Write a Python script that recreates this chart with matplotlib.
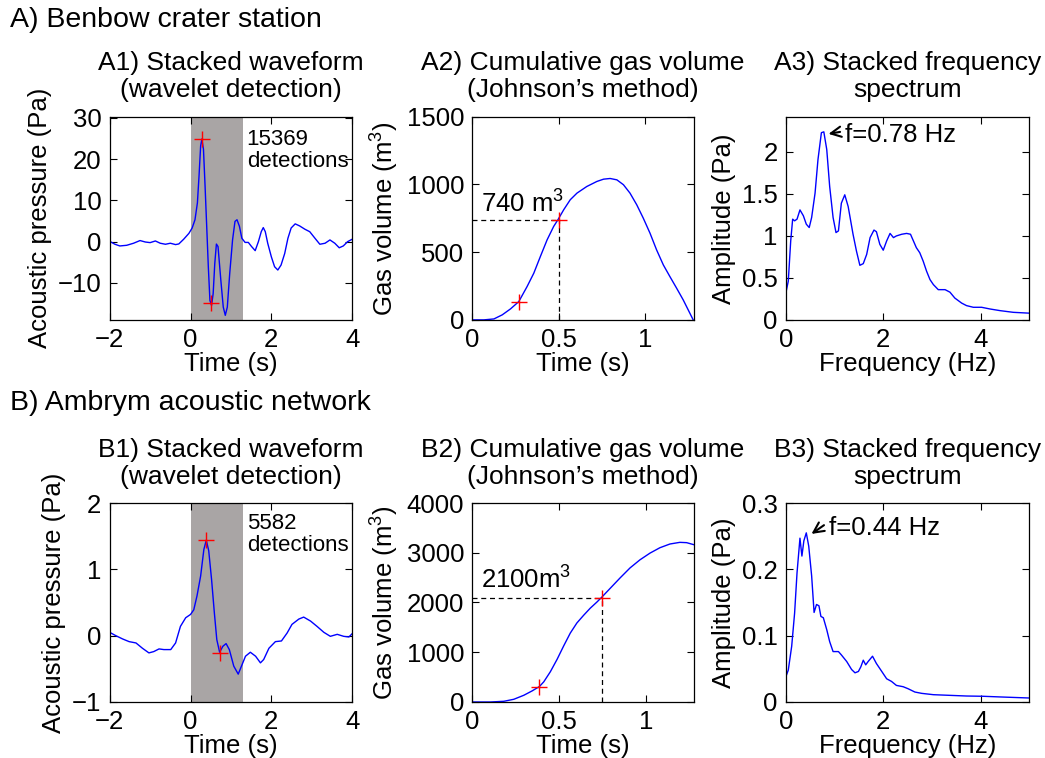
import numpy as np
import matplotlib
matplotlib.use('Agg')
import matplotlib.pyplot as plt
from matplotlib.ticker import FuncFormatter

plt.rcParams['font.family'] = ['Liberation Sans', 'DejaVu Sans']
plt.rcParams['mathtext.fontset'] = 'custom'
plt.rcParams['mathtext.rm'] = 'Liberation Sans'
plt.rcParams['mathtext.default'] = 'regular'
plt.rcParams['font.size'] = 18.5
plt.rcParams['axes.titlesize'] = 19
plt.rcParams['axes.labelsize'] = 18.5

# ---- A) Benbow crater station ----
a1_t = [-1.99, -1.87, -1.75, -1.58, -1.41, -1.25, -1.12, -1.0, -0.87, -0.75, -0.62, -0.5,
        -0.37, -0.29, -0.17, -0.04, 0.04, 0.11, 0.17, 0.21, 0.25, 0.28, 0.32, 0.36, 0.40,
        0.44, 0.48, 0.52, 0.56, 0.60, 0.64, 0.68, 0.75, 0.81, 0.86, 0.91, 0.97, 1.04, 1.10,
        1.15, 1.21, 1.27, 1.35, 1.43, 1.51, 1.60, 1.68, 1.75, 1.80, 1.85, 1.91, 2.0, 2.08,
        2.16, 2.24, 2.33, 2.41, 2.49, 2.59, 2.70, 2.83, 2.95, 3.08, 3.20, 3.33, 3.45, 3.57,
        3.68, 3.78, 3.89, 4.0]
a1_p = [0, -0.65, -1.06, -0.9, -0.4, 0.25, -0.1, -0.25, 0.15, -0.4, -0.65, -0.4,
        -0.73, -0.57, 0.57, 2.0, 3.3, 5.3, 9.4, 15.9, 23.2, 24.9, 22.4, 13.4, 3.7,
        -6.1, -14.3, -15.5, -12.6, -5.3, -0.6, -1.2, -9.4, -15.9, -17.9, -15.9, -7.7, 0.4, 4.9,
        5.3, 3.7, 0.8, -0.2, -0.2, -1.2, -2.2, 0, 2.4, 3.4, 2.4, -0.4, -3.7, -6.1,
        -6.9, -5.7, -2.9, 0.8, 3.3, 4.3, 3.8, 3.0, 2.4, 0.8, -0.65, -0.4, 0.4, -0.4,
        -1.5, -1.06, 0, 0.57]
a1_marks_t = [0.28, 0.50]
a1_marks_p = [25, -15]
a1_window = (0, 1.3)
a1_count = '15369\ndetections'

a2_t = [0, 0.067, 0.125, 0.173, 0.221, 0.269, 0.317, 0.356, 0.394, 0.433, 0.471, 0.496,
        0.529, 0.567, 0.606, 0.663, 0.721, 0.760, 0.798, 0.837, 0.875, 0.913, 0.952, 0.990,
        1.029, 1.067, 1.106, 1.144, 1.183, 1.221, 1.25, 1.279]
a2_v = [0, 0, 7, 37, 81, 135, 246, 345, 468, 591, 690, 740,
        813, 887, 936, 985, 1022, 1039, 1044, 1034, 998, 936, 850, 751,
        640, 517, 406, 320, 234, 148, 74, 0]
a2_marks_t = [0.27, 0.50]
a2_marks_v = [130, 740]

a3_f = [0, 0.05, 0.1, 0.14, 0.18, 0.23, 0.29, 0.36, 0.42, 0.48, 0.53, 0.60, 0.66, 0.73,
        0.78, 0.84, 0.90, 0.97, 1.03, 1.08, 1.14, 1.21, 1.28, 1.38, 1.45, 1.52, 1.59, 1.66,
        1.73, 1.81, 1.86, 1.93, 2.0, 2.07, 2.14, 2.21, 2.27, 2.38, 2.48, 2.56, 2.62, 2.68,
        2.75, 2.82, 2.89, 2.96, 3.03, 3.13, 3.27, 3.37, 3.47, 3.61, 3.71, 3.85, 4.02, 4.19,
        4.4, 4.67, 5.0]
a3_amp = [0.32, 0.46, 0.94, 1.2, 1.18, 1.2, 1.31, 1.24, 1.14, 1.10, 1.22, 1.51, 1.91, 2.23,
          2.24, 2.03, 1.59, 1.22, 1.04, 1.06, 1.39, 1.49, 1.35, 1.02, 0.82, 0.65, 0.67, 0.78,
          0.98, 1.07, 1.05, 0.9, 0.83, 0.94, 1.03, 0.98, 1.0, 1.02, 1.03, 1.02, 0.94, 0.86,
          0.80, 0.70, 0.58, 0.48, 0.42, 0.36, 0.36, 0.33, 0.26, 0.20, 0.17, 0.15, 0.15, 0.13,
          0.11, 0.09, 0.08]
a3_peak = (0.78, 2.24)

# ---- B) Ambrym acoustic network ----
b1_t = [-2, -1.85, -1.68, -1.52, -1.35, -1.19, -1.03, -0.91, -0.78, -0.66, -0.49, -0.37,
        -0.25, -0.12, 0, 0.08, 0.16, 0.25, 0.33, 0.39, 0.45, 0.52, 0.59, 0.65, 0.72, 0.80,
        0.88, 0.96, 1.07, 1.18, 1.26, 1.36, 1.48, 1.61, 1.73, 1.81, 1.94, 2.10, 2.25, 2.39,
        2.51, 2.68, 2.80, 2.97, 3.13, 3.30, 3.46, 3.63, 3.79, 3.92, 4.0]
b1_p = [0.05, 0, -0.05, -0.09, -0.11, -0.19, -0.26, -0.24, -0.20, -0.21, -0.21, -0.11,
        0.14, 0.27, 0.32, 0.39, 0.60, 0.90, 1.30, 1.44, 1.28, 0.85, 0.34, -0.06, -0.25, -0.16,
        -0.12, -0.21, -0.46, -0.58, -0.46, -0.31, -0.25, -0.31, -0.41, -0.36, -0.19, -0.09, -0.08, 0.04,
        0.17, 0.25, 0.28, 0.22, 0.14, 0.05, -0.01, 0.02, -0.01, -0.02, 0.03]
b1_marks_t = [0.39, 0.73]
b1_marks_p = [1.44, -0.26]
b1_window = (0, 1.3)
b1_count = '5582\ndetections'

b2_t = [0, 0.105, 0.182, 0.239, 0.297, 0.345, 0.387, 0.412, 0.450, 0.489, 0.527, 0.565,
        0.603, 0.642, 0.680, 0.718, 0.747, 0.795, 0.852, 0.910, 0.967, 1.025, 1.082, 1.140,
        1.197, 1.236, 1.278]
b2_v = [0, 0, 14, 54, 135, 223, 311, 405, 608, 858, 1128, 1385,
        1588, 1743, 1885, 2007, 2108, 2284, 2493, 2696, 2858, 2993, 3101, 3176,
        3209, 3203, 3162]
b2_marks_t = [0.387, 0.747]
b2_marks_v = [305, 2100]

b3_f = [0, 0.05, 0.12, 0.18, 0.23, 0.29, 0.33, 0.37, 0.42, 0.47, 0.53, 0.58, 0.63, 0.68,
        0.72, 0.77, 0.84, 0.90, 0.97, 1.08, 1.14, 1.25, 1.35, 1.42, 1.49, 1.54, 1.59, 1.64,
        1.69, 1.78, 1.86, 1.97, 2.07, 2.17, 2.27, 2.41, 2.51, 2.65, 2.79, 3.03, 3.37, 3.71,
        4.05, 4.4, 5.0]
b3_amp = [0.038, 0.048, 0.084, 0.134, 0.195, 0.247, 0.220, 0.243, 0.255, 0.235, 0.19, 0.135,
          0.147, 0.145, 0.129, 0.127, 0.109, 0.091, 0.076, 0.076, 0.071, 0.061, 0.049, 0.044,
          0.046, 0.053, 0.063, 0.056, 0.061, 0.069, 0.058, 0.046, 0.035, 0.031, 0.025, 0.023,
          0.020, 0.015, 0.013, 0.011, 0.010, 0.009, 0.0086, 0.0076, 0.006]
b3_peak = (0.44, 0.255)

fmt = FuncFormatter(lambda v, p: f'{v:g}'.replace('-', '\u2212'))


def style(ax):
    ax.tick_params(direction='in', top=True, right=True, length=5, width=0.8, pad=6)
    ax.xaxis.set_major_formatter(fmt)
    ax.yaxis.set_major_formatter(fmt)
    for s in ax.spines.values():
        s.set_linewidth(0.9)


fig = plt.figure(figsize=(10.45, 7.58), dpi=100)

rows = [0.578, 0.0739]
heights = [0.268, 0.2625]
cols = [(0.105, 0.232), (0.452, 0.212), (0.752, 0.233)]

fig.text(0.0096, 1 - 27 / 758, 'A) Benbow crater station', fontsize=20.5, va='baseline')
fig.text(0.0096, 1 - 410 / 758, 'B) Ambrym acoustic network', fontsize=20.5, va='baseline')

wave = [(a1_t, a1_p, a1_marks_t, a1_marks_p, a1_window, a1_count, (-19, 30.3), [-10, 0, 10, 20, 30], 'A1', (1.39, 22.2)),
        (b1_t, b1_p, b1_marks_t, b1_marks_p, b1_window, b1_count, (-1, 2), [-1, 0, 1, 2], 'B1', (1.39, 1.52))]
gas = [(a2_t, a2_v, a2_marks_t, a2_marks_v, (0, 1.283), (0, 1500), [0, 500, 1000, 1500], 'A2', '740 $\\mathrm{m}^3$', 790),
       (b2_t, b2_v, b2_marks_t, b2_marks_v, (0, 1.278), (0, 4000), [0, 1000, 2000, 3000, 4000], 'B2', '2100$\\mathrm{m}^3$', 2270)]
spec = [(a3_f, a3_amp, a3_peak, (0, 2.42), [0, 0.5, 1, 1.5, 2], 'A3', 'f=0.78 Hz', (1.22, 2.2), (0.06, 0.03)),
        (b3_f, b3_amp, b3_peak, (0, 0.3), [0, 0.1, 0.2, 0.3], 'B3', 'f=0.44 Hz', (0.88, 0.263), (0.006, 0.004))]

for r in range(2):
    bottom, h = rows[r], heights[r]

    # waveform
    t, p, mt, mp, win, cnt, ylim, yt, tag, txy = wave[r]
    ax = fig.add_axes([cols[0][0], bottom, cols[0][1], h])
    ax.axvspan(win[0], win[1], color='#a9a5a5', lw=0)
    ax.plot(t, p, color='#0000ff', lw=1)
    ax.plot(mt, mp, '+', color='red', ms=11, mew=1)
    ax.text(txy[0], txy[1], cnt, fontsize=16, va='center', linespacing=1.05)
    ax.set_xlim(-2, 4)
    ax.set_ylim(*ylim)
    ax.set_xticks([-2, 0, 2, 4])
    ax.set_yticks(yt)
    ax.set_xlabel('Time (s)', labelpad=0)
    ax.set_ylabel('Acoustic pressure (Pa)', labelpad=4)
    ax.set_title(f'{tag}) Stacked waveform\n(wavelet detection)', pad=14, linespacing=1.15)
    style(ax)

    # gas volume
    t, v, mt, mv, xlim, ylim, yt, tag, lab, ly = gas[r]
    ax = fig.add_axes([cols[1][0], bottom, cols[1][1], h])
    ax.plot(t, v, color='#0000ff', lw=1)
    ax.plot([0, mt[1]], [mv[1], mv[1]], color='black', lw=0.9, dashes=(4, 3))
    ax.plot([mt[1], mt[1]], [0, mv[1]], color='black', lw=0.9, dashes=(4, 3))
    ax.plot(mt, mv, '+', color='red', ms=11, mew=1)
    ax.text(0.05, ly, lab, va='baseline')
    ax.set_xlim(*xlim)
    ax.set_ylim(*ylim)
    ax.set_xticks([0, 0.5, 1])
    ax.set_yticks(yt)
    ax.set_xlabel('Time (s)', labelpad=0)
    ax.set_ylabel('Gas volume ($\\mathrm{m}^3$)', labelpad=4)
    ax.set_title(f'{tag}) Cumulative gas volume\n(Johnson\u2019s method)', pad=14, linespacing=1.15)
    style(ax)

    # spectrum
    f, amp, peak, ylim, yt, tag, lab, lxy, off = spec[r]
    ax = fig.add_axes([cols[2][0], bottom, cols[2][1], h])
    ax.plot(f, amp, color='#0000ff', lw=1)
    ax.annotate('', xy=(peak[0] + 0.04, peak[1] - off[1]),
                xytext=(lxy[0] - 0.05, lxy[1] + off[1] * 1.5),
                arrowprops=dict(arrowstyle='->', color='black', lw=1.5))
    ax.text(lxy[0], lxy[1], lab, va='center')
    ax.set_xlim(0, 5)
    ax.set_ylim(*ylim)
    ax.set_xticks([0, 2, 4])
    ax.set_yticks(yt)
    ax.set_xlabel('Frequency (Hz)', labelpad=0)
    ax.set_ylabel('Amplitude (Pa)', labelpad=4)
    ax.set_title(f'{tag}) Stacked frequency\nspectrum', pad=14, linespacing=1.15)
    style(ax)

fig.savefig('out.png', dpi=100)
